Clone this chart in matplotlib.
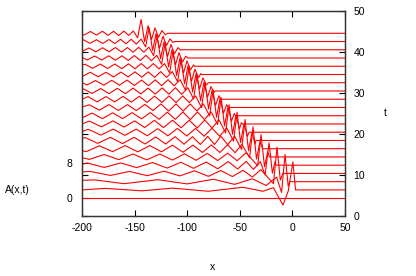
import matplotlib
matplotlib.use("Agg")
import matplotlib.pyplot as plt

plt.rcParams['font.family'] = ['Liberation Sans', 'DejaVu Sans']
plt.rcParams['axes.unicode_minus'] = False

# Each curve: list of (x, A) points, one per time step
c00 = [(-200, 0.0), (50, 0.0)]
c01 = [(-200, 0.0), (-178, 0.35), (-143, -0.2), (-114, 0.4), (-80, -0.3), (-47, 0.6),
       (-28, -0.3), (-18, 0.5), (-9, -3.4), (-4, -0.3), (0.5, 6.3), (3, 0.0), (50, 0.0)]
c02 = [(-200, 0.3), (-188, 0.4), (-160, -0.45), (-128, 0.45), (-100, -0.5), (-75, 0.55),
       (-55, -0.6), (-38, 0.65), (-25, -0.85), (-15, 1.0), (-10.3, -2.4), (-7, 6.1),
       (-4, -1.0), (-2.5, 0.0), (50, 0.0)]
c03 = [(-200, 0.35), (-192, 0.45), (-173, -0.45), (-155, 0.45), (-138, -0.5), (-122, 0.5),
       (-107, -0.55), (-93, 0.6), (-80, -0.65), (-68, 0.65), (-57, -0.7), (-47, 0.7),
       (-38, -0.8), (-30, 0.85), (-18, -2.3), (-14.6, 5.9), (-11.5, -1.5), (-9, 0.0), (50, 0.0)]
c04 = [(-200, 0.2), (-195, 0.5), (-179, -0.5), (-163, 0.5), (-148, -0.55), (-133, 0.6),
       (-119, -0.65), (-106, 0.65), (-94, -0.7), (-82, 0.7), (-71, -0.8), (-61, 0.8),
       (-52, -0.85), (-44, 0.85), (-37, -0.95), (-30.5, 0.8), (-26, -2.2), (-22.2, 5.0),
       (-19, -1.8), (-16.5, 0.8), (-15.4, 0.0), (50, 0.0)]
c05 = [(-200, -0.15), (-193, -0.55), (-179, 0.55), (-165, -0.6), (-151.5, 0.65), (-138.5, -0.65),
       (-126, 0.65), (-114, -0.7), (-102.5, 0.7), (-91.5, -0.75), (-81, 0.8), (-71, -0.8),
       (-61.5, 0.85), (-52.5, -0.85), (-44, 0.95), (-33, -2.0), (-29.8, 5.0), (-26.5, -2.2),
       (-23.5, 1.2), (-21.8, 0.0), (50, 0.0)]
c06 = [(-200, -0.45), (-196, -0.65), (-183.5, 0.65), (-171, -0.65), (-159, 0.7), (-147, -0.7),
       (-135.5, 0.7), (-124.5, -0.7), (-114, 0.8), (-104, -0.8), (-94.5, 0.8), (-85.5, -0.85),
       (-77, 0.85), (-69, -0.85), (-61.5, 0.9), (-54.5, -0.9), (-48, 0.95), (-40.7, -2.0),
       (-37.4, 4.9), (-34.1, -2.3), (-30.8, 1.6), (-28.3, 0.0), (50, 0.0)]
c07 = [(-200, 0.45), (-197, 0.65), (-185, -0.65), (-173, 0.7), (-161.5, -0.7), (-150.5, 0.7),
       (-140, -0.8), (-130, 0.8), (-120.5, -0.8), (-111.5, 0.85), (-103, -0.85), (-95, 0.85),
       (-87.5, -0.9), (-80.5, 0.9), (-74, -0.9), (-68, 0.95), (-61.5, -0.95), (-55, 0.95),
       (-48.3, -2.0), (-45, 4.7), (-41.7, -2.3), (-38.4, 1.8), (-35.5, -0.8), (-34.7, 0.0),
       (50, 0.0)]
c08 = [(-200, 0.15), (-194, 0.65), (-182, -0.65), (-170.4, 0.7), (-159.2, -0.7), (-148.4, 0.7),
       (-138, -0.8), (-128, 0.8), (-118.4, -0.8), (-109.2, 0.85), (-100.4, -0.85), (-92, 0.85),
       (-84, -0.9), (-76.4, 0.9), (-69.2, -0.9), (-62.4, 0.95), (-55.9, -2.0), (-52.6, 4.5),
       (-49.3, -2.3), (-46, 1.9), (-42.7, -0.9), (-41.2, 0.0), (50, 0.0)]
c09 = [(-200, 0.0), (-193, 0.65), (-181.5, -0.65), (-170.5, 0.7), (-160, -0.7), (-150, 0.7),
       (-140.5, -0.8), (-131.3, 0.8), (-122.5, -0.8), (-114, 0.85), (-105.8, -0.85), (-98, 0.85),
       (-90.5, -0.9), (-83.3, 0.9), (-76.4, -0.9), (-69.8, 0.95), (-63.5, -2.0), (-60.2, 4.3),
       (-56.9, -2.3), (-53.6, 2.0), (-50.3, -1.1), (-48.5, 0.3), (-47.6, 0.0), (50, 0.0)]
c10 = [(-200, -0.5), (-190.5, 0.6), (-180.5, -0.65), (-170.8, 0.65), (-161.4, -0.65), (-152.3, 0.7),
       (-143.5, -0.7), (-135, 0.7), (-126.8, -0.8), (-118.9, 0.8), (-111.3, -0.8), (-104, 0.85),
       (-97, -0.85), (-90.2, 0.85), (-83.6, -0.85), (-77.2, 0.85), (-71.1, -2.0), (-67.8, 4.1),
       (-64.5, -2.3), (-61.2, 2.0), (-57.9, -1.2), (-55.2, 0.5), (-54, 0.0), (50, 0.0)]
c11 = [(-200, 0.1), (-193, 0.6), (-183.5, -0.6), (-174.3, 0.65), (-165.4, -0.65), (-156.8, 0.65),
       (-148.4, -0.7), (-140.3, 0.7), (-132.5, -0.7), (-125, 0.8), (-117.7, -0.8), (-110.6, 0.8),
       (-103.8, -0.8), (-97.2, 0.8), (-90.8, -0.8), (-84.6, 0.8), (-78.7, -1.9), (-75.4, 3.9),
       (-72.1, -2.2), (-68.8, 2.0), (-65.5, -1.3), (-62.5, 0.6), (-60.5, 0.0), (50, 0.0)]
c12 = [(-200, 0.0), (-194.2, 0.6), (-185.6, -0.6), (-177.2, 0.6), (-169, -0.6), (-161, 0.65),
       (-153.2, -0.65), (-145.6, 0.65), (-138.2, -0.7), (-131, 0.7), (-124, -0.7), (-117.2, 0.75),
       (-110.6, -0.75), (-104.2, 0.75), (-98, -0.75), (-92, 0.75), (-86.3, -1.9), (-83, 3.8),
       (-79.7, -2.2), (-76.4, 2.0), (-73.1, -1.4), (-69.8, 0.8), (-67.5, -0.2), (-67, 0.0),
       (50, 0.0)]
c13 = [(-200, 0.45), (-198.8, 0.5), (-190.4, -0.55), (-182.2, 0.55), (-174.2, -0.6), (-166.4, 0.6),
       (-158.8, -0.6), (-151.4, 0.65), (-144.2, -0.65), (-137.2, 0.65), (-130.4, -0.7), (-123.8, 0.7),
       (-117.4, -0.7), (-111.2, 0.75), (-105.2, -0.75), (-99.4, 0.75), (-93.9, -1.8), (-90.6, 3.7),
       (-87.3, -2.2), (-84, 2.0), (-80.7, -1.4), (-77.4, 1.0), (-74.5, -0.3), (-73.4, 0.0),
       (50, 0.0)]
c14 = [(-200, 0.0), (-195.2, -0.5), (-187.2, 0.5), (-179.4, -0.55), (-171.8, 0.55), (-164.4, -0.55),
       (-157.2, 0.6), (-150.2, -0.6), (-143.4, 0.6), (-136.8, -0.65), (-130.4, 0.65), (-124.2, -0.65),
       (-118.2, 0.7), (-112.4, -0.7), (-106.8, 0.7), (-101.5, -1.7), (-98.2, 3.6), (-94.9, -2.1),
       (-91.6, 2.0), (-88.3, -1.4), (-85, 1.1), (-81.8, -0.5), (-79.9, 0.0), (50, 0.0)]
c15 = [(-200, -0.5), (-192.2, 0.5), (-184.6, -0.5), (-177.2, 0.5), (-170, -0.55), (-163, 0.55),
       (-156.2, -0.55), (-149.6, 0.6), (-143.2, -0.6), (-137, 0.6), (-131, -0.65), (-125.2, 0.65),
       (-119.6, -0.65), (-114.2, 0.65), (-109.1, -1.6), (-105.8, 3.5), (-102.5, -2.1), (-99.2, 2.0),
       (-95.9, -1.5), (-92.6, 1.2), (-89.3, -0.7), (-87, 0.2), (-86.3, 0.0), (50, 0.0)]
c16 = [(-200, 0.3), (-197.2, 0.45), (-189.8, -0.45), (-182.6, 0.5), (-175.6, -0.5), (-168.8, 0.5),
       (-162.2, -0.55), (-155.8, 0.55), (-149.6, -0.55), (-143.6, 0.6), (-137.8, -0.6), (-132.2, 0.6),
       (-126.8, -0.6), (-121.6, 0.6), (-116.7, -1.5), (-113.4, 3.4), (-110.1, -2.1), (-106.8, 1.9),
       (-103.5, -1.5), (-100.2, 1.2), (-96.9, -0.8), (-94, 0.3), (-92.8, 0.0), (50, 0.0)]
c17 = [(-200, 0.15), (-195, -0.45), (-188, 0.45), (-181.2, -0.45), (-174.6, 0.5), (-168.2, -0.5),
       (-162, 0.5), (-156, -0.55), (-150.2, 0.55), (-144.6, -0.55), (-139.2, 0.6), (-134, -0.6),
       (-129, 0.6), (-124.3, -1.4), (-121, 3.3), (-117.7, -2.0), (-114.4, 1.9), (-111.1, -1.5),
       (-107.8, 1.2), (-104.5, -0.9), (-101.4, 0.4), (-99.2, 0.0), (50, 0.0)]
c18 = [(-200, -0.4), (-193.4, 0.4), (-186.8, -0.45), (-180.4, 0.45), (-174.2, -0.45), (-168.2, 0.5),
       (-162.4, -0.5), (-156.8, 0.5), (-151.4, -0.55), (-146.2, 0.55), (-141.2, -0.55), (-136.4, 0.6),
       (-131.9, -1.3), (-128.6, 3.2), (-125.3, -2.0), (-122, 1.8), (-118.7, -1.5), (-115.4, 1.2),
       (-112.1, -0.9), (-108.8, 0.5), (-106.4, -0.1), (-105.6, 0.0), (50, 0.0)]
c19 = [(-200, 0.3), (-198.8, 0.4), (-192.4, -0.4), (-186.2, 0.4), (-180.2, -0.45), (-174.4, 0.45),
       (-168.8, -0.45), (-163.4, 0.5), (-158.2, -0.5), (-153.2, 0.5), (-148.4, -0.55), (-143.8, 0.55),
       (-139.5, -1.2), (-136.2, 3.1), (-132.9, -2.0), (-129.6, 1.8), (-126.3, -1.5), (-123, 1.2),
       (-119.7, -0.9), (-116.4, 0.6), (-113.5, -0.2), (-112, 0.0), (50, 0.0)]
c20 = [(-200, -0.25), (-198, -0.4), (-192, 0.4), (-186.2, -0.4), (-180.6, 0.45), (-175.2, -0.45),
       (-170, 0.45), (-165, -0.5), (-160.2, 0.5), (-155.6, -0.5), (-151.2, 0.5), (-147.1, -1.0),
       (-143.8, 3.1), (-140.5, -1.9), (-137.2, 1.7), (-133.9, -1.4), (-130.6, 1.2), (-127.3, -0.9),
       (-124, 0.6), (-120.8, -0.3), (-118.5, 0.0), (50, 0.0)]

curves = [c00, c01, c02, c03, c04, c05, c06, c07, c08, c09, c10,
          c11, c12, c13, c14, c15, c16, c17, c18, c19, c20]
step = 1.85           # vertical offset between successive time curves (A units)

fig = plt.figure(figsize=(4.16, 2.76), dpi=100)
ax = fig.add_axes([82 / 416, 60 / 276, 263 / 416, 205 / 276])

for i, c in enumerate(curves):
    xs = [p[0] for p in c]
    ys = [p[1] + i * step for p in c]
    ax.plot(xs, ys, color='#ff0000', lw=0.8, solid_joinstyle='round')

ax.set_xlim(-200, 50)
ax.set_ylim(-4, 42)
ax.set_xticks([-200, -150, -100, -50, 0, 50])
ax.set_yticks([0, 8])
ax.tick_params(axis='x', direction='in', length=4, width=0.8, top=True,
               labelsize=7.5, pad=5)
ax.tick_params(axis='y', direction='in', length=4, width=0.8, left=True, right=False,
               labelsize=7.5, pad=7)

ax2 = ax.twinx()
ax2.set_ylim(0, 50)
ax2.set_yticks([0, 10, 20, 30, 40, 50])
ax2.yaxis.set_ticks_position('both')
ax2.tick_params(axis='y', direction='in', length=4, width=0.8, labelleft=False,
                labelright=True, labelsize=7.5, pad=6)

for a in (ax, ax2):
    for s in a.spines.values():
        s.set_linewidth(0.9)
        s.set_color('#333333')

fig.text(213 / 416, 1 - 267 / 276, 'x', ha='center', va='center', fontsize=7.5)
fig.text(5 / 416, 1 - 190 / 276, 'A(x,t)', ha='left', va='center', fontsize=7.5)
fig.text(385 / 416, 1 - 113 / 276, 't', ha='center', va='center', fontsize=7.5)

fig.savefig('out.png', dpi=100)
